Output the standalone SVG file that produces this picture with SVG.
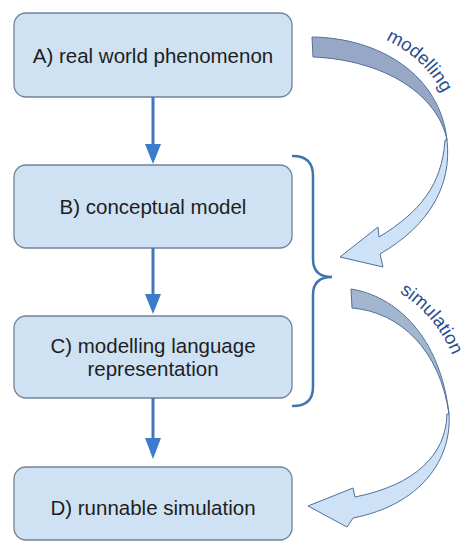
<svg xmlns="http://www.w3.org/2000/svg" width="464" height="543" viewBox="0 0 464 543">
  <defs>
    <style>
      .box { fill: #cfe2f3; stroke: #72839a; stroke-width: 1.3; }
      .label { font-family: "Liberation Sans", Arial, sans-serif; font-size: 20.5px; fill: #1e1e1e; text-anchor: middle; }
      .flow { stroke: #4277b8; stroke-width: 3; fill: none; }
      .head { fill: #3b7ccc; }
      .brace { stroke: #3f76ad; stroke-width: 2.5; fill: none; stroke-linecap: round; }
      .ribbon-dark { fill: #97a8c6; stroke: #50709a; stroke-width: 1; stroke-linejoin: round; }
      .ribbon-sim { fill: #a3b6cf; stroke: #50709a; stroke-width: 1; stroke-linejoin: round; }
      .ribbon-light { fill: #cde2f6; stroke: #50709a; stroke-width: 1; stroke-linejoin: round; }
      .arc-label { font-family: "Liberation Sans", Arial, sans-serif; font-size: 18.5px; fill: #2c4f8c; }
    </style>
    <path id="modelPath" d="M338,30 A118,118 0 0 1 456,148"/>
    <path id="simPath" d="M330,273 A132,132 0 0 1 462,405"/>
  </defs>

  <rect width="464" height="543" fill="#ffffff"/>

  <!-- process steps -->
  <g id="nodeA">
    <rect class="box" x="14" y="13" width="278" height="84" rx="12"/>
    <text class="label" x="153" y="63">A) real world phenomenon</text>
  </g>
  <g id="nodeB">
    <rect class="box" x="14" y="165" width="278" height="83" rx="12"/>
    <text class="label" x="153" y="214">B) conceptual model</text>
  </g>
  <g id="nodeC">
    <rect class="box" x="14" y="316" width="278" height="82" rx="12"/>
    <text class="label" x="153" y="353">C) modelling language</text>
    <text class="label" x="153" y="376">representation</text>
  </g>
  <g id="nodeD">
    <rect class="box" x="14" y="467" width="278" height="73" rx="12"/>
    <text class="label" x="153" y="515">D) runnable simulation</text>
  </g>

  <!-- vertical flow arrows -->
  <g id="connectors">
    <line class="flow" x1="153" y1="97" x2="153" y2="146"/>
    <polygon class="head" points="145,144 161,144 153,164"/>
    <line class="flow" x1="153" y1="248" x2="153" y2="296"/>
    <polygon class="head" points="145,294 161,294 153,314"/>
    <line class="flow" x1="153" y1="398" x2="153" y2="440"/>
    <polygon class="head" points="145,438 161,438 153,459"/>
  </g>

  <!-- brace grouping B and C -->
  <g id="brace">
    <path class="brace" d="M293,156 Q313,156 313,176 L313,259 Q313,277 332,277 Q313,277 313,295 L313,387 Q313,406 293,406"/>
  </g>

  <!-- modelling ribbon arrow -->
  <g id="modelling">
    <path class="ribbon-dark" d="M312,37 C380,38 440,75 447,140 C438,95 385,60 313,57 Z"/>
    <path class="ribbon-light" d="M447,140 C452,185 430,225 380,254 L383,267 L340,257 L378,227 L379,237 C420,212 442,185 445,140 Z"/>
    <text class="arc-label"><textPath href="#modelPath" startOffset="49">modelling</textPath></text>
  </g>

  <!-- simulation ribbon arrow -->
  <g id="simulation">
    <path class="ribbon-sim" d="M351,289 C395,296 440,335 449,414 C440,350 400,312 352,308 Z"/>
    <path class="ribbon-light" d="M449,414 C452,460 420,505 353,518 L347,527 L308,506 L353,488 L355,497 C415,485 446,455 447,414 Z"/>
    <text class="arc-label"><textPath href="#simPath" startOffset="73">simulation</textPath></text>
  </g>
</svg>
